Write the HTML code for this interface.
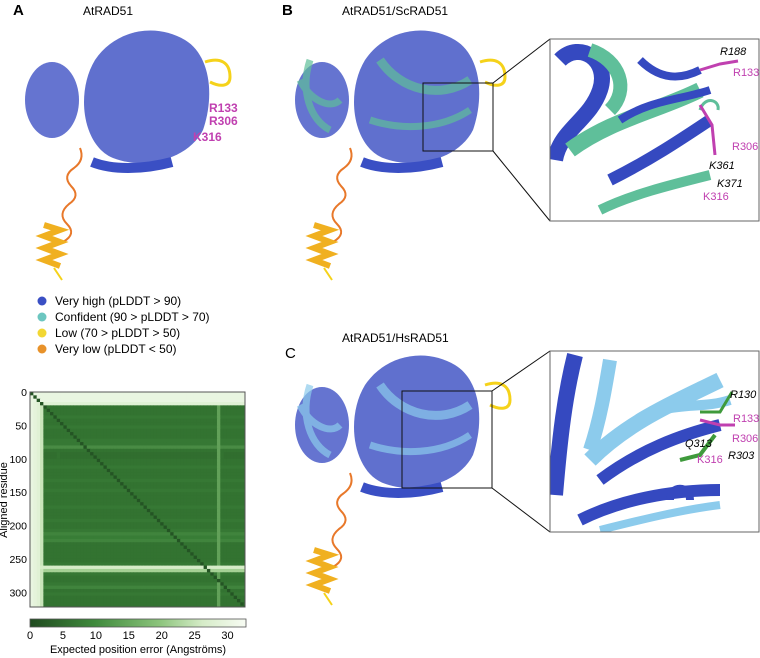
<!DOCTYPE html>
<html><head><meta charset="utf-8"><style>
body{margin:0;background:#fff;font-family:"Liberation Sans",sans-serif}
svg{display:block}
text{font-family:"Liberation Sans",sans-serif}
</style></head><body>
<svg id="fig" width="760" height="658" viewBox="0 0 760 658">
<defs>
<g id="prot">
 <ellipse cx="52" cy="100" rx="27" ry="38" fill="#4a5cc8" opacity="0.85"/>
 <path d="M95,60 c20,-30 60,-38 90,-20 c25,15 30,55 18,90 c-15,30 -60,40 -90,28 c-30,-12 -38,-65 -18,-98z" fill="#4457c6" opacity="0.85"/>
 <path d="M92,162 c20,8 50,8 80,0" stroke="#3a4fc4" stroke-width="10" fill="none"/>
 <path d="M80,148 q5,12 -6,20 q-12,8 -3,18 q10,10 -2,18 q-12,10 -2,20 q10,10 -4,18" stroke="#e8782a" stroke-width="2" fill="none"/>
 <path d="M44,225 l16,5 l-16,6 l16,6 l-16,6 l16,6 l-16,6 l16,6" stroke="#f0b020" stroke-width="6" fill="none"/>
 <path d="M54,268 l8,12" stroke="#f5d21a" stroke-width="2"/>
</g>
</defs>

<!-- Panel A -->
<text x="13" y="15" font-size="15" font-weight="bold">A</text>
<text x="83" y="15" font-size="12">AtRAD51</text>
<g><use href="#prot"/>
 <path d="M205,62 c15,-5 25,0 25,15 c0,10 -10,10 -20,5" stroke="#f5d21a" stroke-width="3" fill="none"/></g>
<text x="209" y="112" font-size="12" font-weight="bold" fill="#c040b0">R133</text>
<text x="209" y="125" font-size="12" font-weight="bold" fill="#c040b0">R306</text>
<text x="193" y="141" font-size="12" font-weight="bold" fill="#c040b0">K316</text>

<g font-size="12">
 <circle cx="42" cy="301" r="4.5" fill="#3a4fc4"/><text x="55" y="305">Very high (pLDDT &gt; 90)</text>
 <circle cx="42" cy="317" r="4.5" fill="#6cc6c0"/><text x="55" y="321">Confident (90 &gt; pLDDT &gt; 70)</text>
 <circle cx="42" cy="333" r="4.5" fill="#f2d733"/><text x="55" y="337">Low (70 &gt; pLDDT &gt; 50)</text>
 <circle cx="42" cy="349" r="4.5" fill="#e8922a"/><text x="55" y="353">Very low (pLDDT &lt; 50)</text>
</g>

<g id="heat"></g>
<rect x="30" y="392" width="215" height="215" fill="none" stroke="#555" stroke-width="1"/>
<g id="yaxis"></g>
<text transform="translate(7,500) rotate(-90)" text-anchor="middle" font-size="11">Aligned residue</text>
<defs><linearGradient id="cb"><stop offset="0" stop-color="#1f4a1f"/><stop offset="0.3" stop-color="#3f8a3c"/><stop offset="0.6" stop-color="#8cc47c"/><stop offset="0.8" stop-color="#d6ecc8"/><stop offset="1" stop-color="#f8fcf4"/></linearGradient></defs>
<rect x="30" y="619" width="216" height="8" fill="url(#cb)" stroke="#555" stroke-width="0.8"/>
<g id="cbticks"></g>
<text x="138" y="653" text-anchor="middle" font-size="11">Expected position error (Angströms)</text>

<!-- Panel B -->
<text x="282" y="15" font-size="15" font-weight="bold">B</text>
<text x="342" y="15" font-size="12">AtRAD51/ScRAD51</text>
<g><use href="#prot" transform="translate(270,0)"/>
 <g opacity="0.7"><path d="M300,80 c10,20 30,30 40,20" stroke="#5fbf9a" stroke-width="7" fill="none"/><path d="M380,60 c20,30 60,40 90,20" stroke="#5fbf9a" stroke-width="9" fill="none"/><path d="M370,120 c30,10 70,10 100,-10" stroke="#5fbf9a" stroke-width="7" fill="none"/><path d="M310,60 c-10,30 0,60 20,70" stroke="#5fbf9a" stroke-width="7" fill="none"/></g>
 <path d="M480,62 c15,-5 25,0 25,15 c0,10 -10,10 -20,5" stroke="#f5d21a" stroke-width="3" fill="none"/></g>
<rect x="423" y="83" width="70" height="68" fill="none" stroke="#111"/>
<line x1="493" y1="83" x2="550" y2="39" stroke="#111"/><line x1="493" y1="151" x2="550" y2="221" stroke="#111"/>
<g>
 <rect x="550" y="39" width="209" height="182" fill="#fff"/>
 <clipPath id="cB"><rect x="550" y="39" width="209" height="182"/></clipPath>
 <g clip-path="url(#cB)">
  <path d="M560,60 c20,-20 50,0 40,30 c-10,30 -40,40 -45,70" stroke="#3549c0" stroke-width="16" fill="none"/>
  <path d="M590,50 c30,10 40,40 20,60" stroke="#5fbf9a" stroke-width="14" fill="none"/>
  <path d="M570,150 c40,-30 90,-40 130,-60" stroke="#5fbf9a" stroke-width="16" fill="none"/>
  <path d="M610,180 c40,-20 70,-40 100,-60" stroke="#3549c0" stroke-width="12" fill="none"/>
  <path d="M620,120 c30,-20 60,-20 90,-30" stroke="#3549c0" stroke-width="8" fill="none"/>
  <path d="M600,210 c30,-15 70,-25 110,-35" stroke="#5fbf9a" stroke-width="10" fill="none"/>
  <path d="M640,60 c20,20 40,20 60,10" stroke="#3549c0" stroke-width="8" fill="none"/>
  <path d="M700,110 c5,-15 20,-10 18,0" stroke="#5fbf9a" stroke-width="3" fill="none"/>
  <path d="M700,105 l12,20 l3,30" stroke="#c040b0" stroke-width="3" fill="none"/>
  <path d="M700,70 l20,-6 l18,-3" stroke="#c040b0" stroke-width="3" fill="none"/>
 </g>
 <rect x="550" y="39" width="209" height="182" fill="none" stroke="#666"/>
</g>
<g font-size="11" font-style="italic">
 <text x="720" y="55">R188</text><text x="733" y="76" fill="#c040b0" font-style="normal">R133</text>
 <text x="732" y="150" fill="#c040b0" font-style="normal">R306</text><text x="709" y="169">K361</text>
 <text x="717" y="187">K371</text><text x="703" y="200" fill="#c040b0" font-style="normal">K316</text>
</g>

<!-- Panel C -->
<text x="285" y="358" font-size="15">C</text>
<text x="342" y="342" font-size="12">AtRAD51/HsRAD51</text>
<g><use href="#prot" transform="translate(270,325)"/>
 <g opacity="0.7"><path d="M300,405 c10,20 30,30 40,20" stroke="#8ccbec" stroke-width="7" fill="none"/><path d="M380,385 c20,30 60,40 90,20" stroke="#8ccbec" stroke-width="9" fill="none"/><path d="M370,445 c30,10 70,10 100,-10" stroke="#8ccbec" stroke-width="7" fill="none"/><path d="M310,385 c-10,30 0,60 20,70" stroke="#8ccbec" stroke-width="7" fill="none"/></g>
 <path d="M485,385 c15,-5 25,0 25,15 c0,10 -10,10 -20,5" stroke="#f5d21a" stroke-width="3" fill="none"/></g>
<rect x="402" y="391" width="90" height="97" fill="none" stroke="#111"/>
<line x1="492" y1="391" x2="550" y2="351" stroke="#111"/><line x1="492" y1="488" x2="550" y2="532" stroke="#111"/>
<g>
 <rect x="550" y="351" width="209" height="181" fill="#fff"/>
 <clipPath id="cC"><rect x="550" y="351" width="209" height="181"/></clipPath>
 <g clip-path="url(#cC)">
  <path d="M575,355 c-10,40 -15,80 -20,140" stroke="#3549c0" stroke-width="16" fill="none"/>
  <path d="M610,360 c-5,30 -10,60 -20,90" stroke="#8ccbec" stroke-width="14" fill="none"/>
  <path d="M590,460 c40,-40 90,-60 130,-80" stroke="#8ccbec" stroke-width="16" fill="none"/>
  <path d="M600,480 c40,-30 80,-45 120,-55" stroke="#3549c0" stroke-width="12" fill="none"/>
  <path d="M580,520 c40,-20 90,-30 140,-30" stroke="#3549c0" stroke-width="12" fill="none"/>
  <path d="M600,530 c40,-10 80,-20 120,-25" stroke="#8ccbec" stroke-width="8" fill="none"/>
  <path d="M640,420 c30,-20 60,-10 90,-20" stroke="#8ccbec" stroke-width="10" fill="none"/>
  <path d="M670,500 c0,-15 20,-15 20,0" stroke="#3549c0" stroke-width="8" fill="none"/>
  <path d="M700,420 l20,5 l15,0" stroke="#c040b0" stroke-width="3" fill="none"/>
  <path d="M700,412 l20,0 l12,-20" stroke="#3f9a3c" stroke-width="3" fill="none"/>
  <path d="M680,460 l20,-5 l15,-20" stroke="#3f9a3c" stroke-width="4" fill="none"/>
 </g>
 <rect x="550" y="351" width="209" height="181" fill="none" stroke="#666"/>
</g>
<g font-size="11" font-style="italic">
 <text x="730" y="398">R130</text><text x="733" y="422" fill="#c040b0" font-style="normal">R133</text>
 <text x="732" y="442" fill="#c040b0" font-style="normal">R306</text><text x="685" y="447">Q313</text>
 <text x="728" y="459">R303</text><text x="697" y="463" fill="#c040b0" font-style="normal">K316</text>
</g>
</svg>
<script>
// PAE heatmap data (bins of 5 residues, error in Å)
const binSize = 5;
const rowErr = [30,30,30,28,8,8,8,9,8,8,9,8,8,8,9,9,12,8,7,7,8,8,9,8,8,8,9,8,8,9,8,8,8,8,9,8,8,8,9,8,8,9,11,10,11,8,8,8,8,8,8,9,26,22,9,8,8,9,11,8,9,8,8,8,8];
const colErr = [30,29,28,25,7,7,7,7,8,7,7,7,7,7,7,7,7,7,7,7,7,7,7,7,7,7,7,7,7,7,7,7,7,7,7,7,7,7,7,7,7,7,7,7,7,7,7,7,7,7,7,7,7,7,7,7,15,8,7,7,7,7,7,7,7];
const yTicks = [0,50,100,150,200,250,300];
const cbTicks = [0,5,10,15,20,25,30];
const maxRes = 322, maxErr = 32.8;
const NS = "http://www.w3.org/2000/svg";
const X0=30, Y0=392, S=215;
const res2px = r => r/maxRes*S;
const err2x = e => 30 + e/maxErr*216;
function color(e){
  const stops=[[0,[31,74,31]],[10,[56,125,54]],[20,[140,196,124]],[26,[214,236,200]],[33,[248,252,244]]];
  for(let k=0;k<stops.length-1;k++){const [a,ca]=stops[k],[b,cb]=stops[k+1];
    if(e<=b){const t=(e-a)/(b-a);return 'rgb('+ca.map((c,i)=>Math.round(c+(cb[i]-c)*t)).join(',')+')';}}
  return 'rgb(248,252,244)';
}
const heat=document.getElementById('heat');
for(let i=0;i<rowErr.length;i++){
  for(let j=0;j<colErr.length;j++){
    let e=Math.max(rowErr[i],colErr[j]);
    if(i===j) e=Math.min(e,2);
    const y=Y0+res2px(i*binSize), x=X0+res2px(j*binSize);
    const h=Math.min(res2px(binSize)+0.5, Y0+S-y), w=Math.min(res2px(binSize)+0.5, X0+S-x);
    if(h<=0||w<=0) continue;
    const r=document.createElementNS(NS,'rect');
    r.setAttribute('x',x);r.setAttribute('y',y);r.setAttribute('width',w);r.setAttribute('height',h);
    r.setAttribute('fill',color(e));
    
    
    heat.appendChild(r);
  }
}
const ya=document.getElementById('yaxis');
yTicks.forEach(v=>{const t=document.createElementNS(NS,'text');
  t.setAttribute('x',27);t.setAttribute('y',Y0+res2px(v)+4);t.setAttribute('text-anchor','end');t.setAttribute('font-size','10.5');
  t.textContent=v;
  
  
  ya.appendChild(t);});
const cbt=document.getElementById('cbticks');
cbTicks.forEach(v=>{const t=document.createElementNS(NS,'text');
  t.setAttribute('x',err2x(v));t.setAttribute('y',639);t.setAttribute('text-anchor','middle');t.setAttribute('font-size','11');
  t.textContent=v;
  
  
  cbt.appendChild(t);});
</script>
</body></html>
